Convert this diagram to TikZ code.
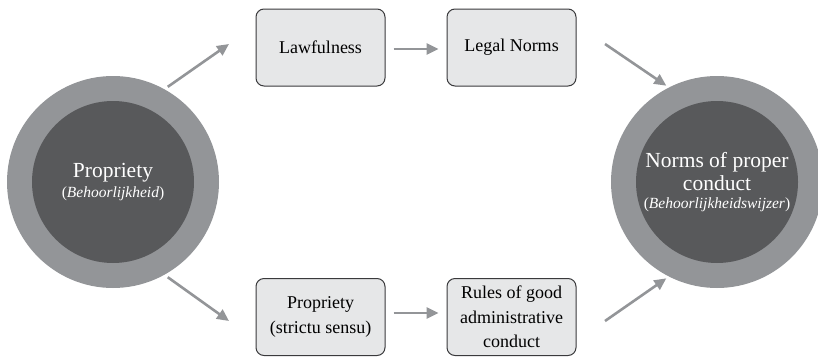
\documentclass[tikz,border=0pt]{standalone}
\usepackage{fontspec}
\setmainfont{Liberation Serif}
\usetikzlibrary{arrows.meta}
\definecolor{ringgray}{HTML}{939598}
\definecolor{coregray}{HTML}{58595B}
\definecolor{boxfill}{HTML}{E6E7E8}
\definecolor{boxline}{HTML}{3A3A3C}
\definecolor{arrowgray}{HTML}{939598}
\begin{document}
\begin{tikzpicture}[x=1pt,y=-1pt,
  ring/.style={circle, fill=ringgray, minimum size=212pt, inner sep=0pt},
  core/.style={circle, fill=coregray, minimum size=162pt, inner sep=0pt,
    text=white, align=center, font=\fontsize{21.5}{23}\selectfont},
  stepbox/.style={draw=boxline, line width=1pt, fill=boxfill, rounded corners=8pt,
    minimum width=129pt, minimum height=77pt, inner sep=2pt,
    align=center, font=\fontsize{18}{24.5}\selectfont},
  flow/.style={draw=arrowgray, line width=2.6pt,
    -{Triangle[length=12pt,width=11pt]}},
  sub/.style={font=\fontsize{15.5}{17}\selectfont}
]
\clip (0,0) rectangle (818,356);

% left hub
\node[ring] (lring) at (113,182) {};
\node[core] (lcore) at (113,182) {Propriety\\[-3pt]{\fontsize{15.5}{17}\selectfont(\textit{Behoorlijkheid})}};

% right hub
\node[ring] (rring) at (717,182) {};
\node[core] (rcore) at (717,182) {Norms of proper\\conduct\\[-5pt]{\fontsize{15.5}{17}\selectfont(\textit{Behoorlijkheidswijzer})}};

% upper branch
\node[stepbox] (law) at (320.5,47.5) {Lawfulness};
\node[stepbox] (legal) at (511.5,47.5) {Legal Norms};

% lower branch
\node[stepbox] (prop) at (320.5,317) {Propriety\\(strictu sensu)};
\node[stepbox] (rules) at (511.5,317) {Rules of good\\administrative\\conduct};

% free ends of the diagonal arrows
\coordinate (tlend) at (229,44);
\coordinate (blend) at (229,321);
\coordinate (trstart) at (605,44);
\coordinate (brstart) at (605,321);

% connectors
\draw[flow, shorten <=4pt] (lring.61) -- (tlend);
\draw[flow, shorten <=4pt] (lring.-61) -- (blend);
\draw[flow, shorten >=8pt, shorten <=8pt] ([yshift=-1.5pt]law.east) -- ([yshift=-1.5pt]legal.west);
\draw[flow, shorten >=8pt, shorten <=8pt] ([yshift=4pt]prop.east) -- ([yshift=4pt]rules.west);
\draw[flow, shorten >=3pt] (trstart) -- (rring.117);
\draw[flow, shorten >=3pt] (brstart) -- (rring.-117);
\end{tikzpicture}
\end{document}
